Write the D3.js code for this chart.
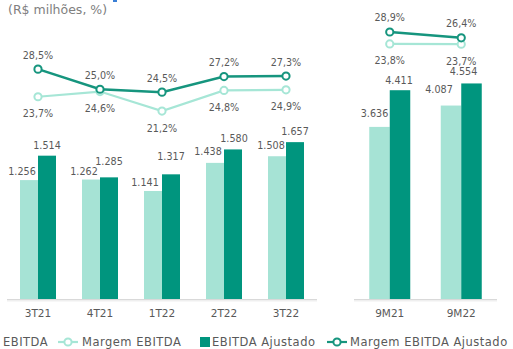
<!DOCTYPE html>
<html>
<head>
<meta charset="utf-8">
<script src="https://cdn.jsdelivr.net/npm/d3@7"></script>
<style>
  html, body { margin: 0; padding: 0; background: #fff; }
  svg { display: block; font-family: "DejaVu Sans", Verdana, sans-serif; }
</style>
</head>
<body>
<svg id="chart" width="513" height="349"></svg>
<script>
// Quarterly figures
const quarters = ["3T21", "4T21", "1T22", "2T22", "3T22"];
const ebitdaQ = [1256, 1262, 1141, 1438, 1508];
const ebitdaAjQ = [1514, 1285, 1317, 1580, 1657];
const margemQ = [23.7, 24.6, 21.2, 24.8, 24.9];
const margemAjQ = [28.5, 25.0, 24.5, 27.2, 27.3];

// Nine-month figures
const periods = ["9M21", "9M22"];
const ebitdaP = [3636, 4087];
const ebitdaAjP = [4411, 4554];
const margemP = [23.8, 23.7];
const margemAjP = [28.9, 26.4];

const legendItems = ["EBITDA", "Margem EBITDA", "EBITDA Ajustado", "Margem EBITDA Ajustado"];

const C = {
  light: "#a6e3d5",
  dark: "#00957e",
  lightLine: "#a6e6d6",
  darkLine: "#16957e",
  text: "#595959",
  axis: "#d9d9d9"
};

const fmtNum = d3.format(",d");
const num = v => fmtNum(v).replace(/,/g, ".");
const pct = v => v.toFixed(1).replace(".", ",") + "%";

const svg = d3.select("#chart");

svg.append("text")
  .attr("x", 8).attr("y", 14)
  .attr("fill", "#808080")
  .attr("font-size", 12.5)
  .text("(R$ milhões, %)");
svg.append("rect").attr("x", 113).attr("y", 0).attr("width", 4).attr("height", 2).attr("fill", "#3a7fd5");

// Label nudges (x, y) for the value labels above each bar
const qLightNudge = [[-7, -9], [-7, -8], [-8, -8], [-7, -11], [-6, -11]];
const qDarkNudge = [[0, -10], [0, -16], [0, -18], [1, -11], [0, -11]];
const pLightNudge = [[-5, -13], [-12, -16]];
const pDarkNudge = [[-1, -10], [-8, -12]];

function panel(cfg) {
  const x = d3.scaleBand().domain(cfg.cats).range(cfg.xRange).paddingInner(0).paddingOuter(0);
  const yBar = d3.scaleLinear().domain(cfg.barDomain).range([299, 15]);
  const yPct = d3.scaleLinear().domain([20, 30]).range(cfg.pctRange);
  const bw = cfg.barW;
  const g = svg.append("g");

  // axis baseline with soft shadow
  g.append("line")
    .attr("x1", cfg.xRange[0]).attr("x2", cfg.xRange[1])
    .attr("y1", 300.5).attr("y2", 300.5)
    .attr("stroke", "#efefef").attr("stroke-width", 2);
  g.append("line")
    .attr("x1", cfg.xRange[0]).attr("x2", cfg.xRange[1])
    .attr("y1", 299.5).attr("y2", 299.5)
    .attr("stroke", C.axis).attr("stroke-width", 1.2);

  const ctr = c => x(c) + x.bandwidth() / 2;

  g.selectAll(".bl").data(cfg.cats).join("rect")
    .attr("x", c => ctr(c) - bw).attr("width", bw)
    .attr("y", (c, i) => yBar(cfg.light[i]))
    .attr("height", (c, i) => 299 - yBar(cfg.light[i]))
    .attr("fill", C.light);
  g.selectAll(".bd").data(cfg.cats).join("rect")
    .attr("x", c => ctr(c)).attr("width", bw)
    .attr("y", (c, i) => yBar(cfg.dark[i]))
    .attr("height", (c, i) => 299 - yBar(cfg.dark[i]))
    .attr("fill", C.dark);

  const lab = (sel) => sel.attr("fill", C.text).attr("font-size", 9.6)
    .attr("text-anchor", "middle").attr("dominant-baseline", "central");

  g.selectAll(".tl").data(cfg.cats).join("text").call(lab)
    .attr("x", (c, i) => ctr(c) - bw / 2 + cfg.lightNudge[i][0])
    .attr("y", (c, i) => yBar(cfg.light[i]) + cfg.lightNudge[i][1])
    .text((c, i) => num(cfg.light[i]));
  g.selectAll(".td").data(cfg.cats).join("text").call(lab)
    .attr("x", (c, i) => ctr(c) + bw / 2 + cfg.darkNudge[i][0])
    .attr("y", (c, i) => yBar(cfg.dark[i]) + cfg.darkNudge[i][1])
    .text((c, i) => num(cfg.dark[i]));

  // category labels
  g.selectAll(".cx").data(cfg.cats).join("text")
    .attr("x", ctr).attr("y", 313)
    .attr("text-anchor", "middle").attr("dominant-baseline", "central")
    .attr("fill", C.text).attr("font-size", 10.5)
    .text(c => c);

  // margin lines
  const drawLine = (vals, color, sw, labDy) => {
    const pts = cfg.cats.map((c, i) => [ctr(c), yPct(vals[i])]);
    g.append("path").attr("d", d3.line()(pts))
      .attr("fill", "none").attr("stroke", color).attr("stroke-width", sw);
    g.selectAll(null).data(pts).join("circle")
      .attr("cx", p => p[0]).attr("cy", p => p[1]).attr("r", 3.6)
      .attr("fill", "#fff").attr("stroke", color).attr("stroke-width", 2);
    g.selectAll(null).data(pts).join("text").call(lab)
      .attr("x", p => p[0]).attr("y", p => p[1] + labDy)
      .text((p, i) => pct(vals[i]));
  };
  drawLine(cfg.margem, C.lightLine, 2.2, 17);
  drawLine(cfg.margemAj, C.darkLine, 2.5, -14);
}

panel({
  cats: quarters, xRange: [7, 317], barW: 18,
  barDomain: [0, 3000], pctRange: [118, 60.5],
  light: ebitdaQ, dark: ebitdaAjQ, margem: margemQ, margemAj: margemAjQ,
  lightNudge: qLightNudge, darkNudge: qDarkNudge
});
panel({
  cats: periods, xRange: [354, 497], barW: 20.5,
  barDomain: [0, 6000], pctRange: [52.9, 29.4],
  light: ebitdaP, dark: ebitdaAjP, margem: margemP, margemAj: margemAjP,
  lightNudge: pLightNudge, darkNudge: pDarkNudge
});

// legend
const lg = svg.append("g").attr("font-size", 11.5).attr("letter-spacing", 0.5).attr("fill", C.text);
const ly = 342;
const legendPos = [
  { kind: "rect", color: C.light, mx: -10, tx: 3 },
  { kind: "line", color: C.lightLine, mx: 58, tx: 82 },
  { kind: "rect", color: C.dark, mx: 200, tx: 212 },
  { kind: "line", color: C.darkLine, mx: 327, tx: 350 }
];
legendItems.forEach((name, i) => {
  const p = legendPos[i];
  if (p.kind === "rect") {
    lg.append("rect").attr("x", p.mx).attr("y", ly - 5).attr("width", 10).attr("height", 10).attr("fill", p.color);
  } else {
    lg.append("line").attr("x1", p.mx).attr("x2", p.mx + 20).attr("y1", ly).attr("y2", ly)
      .attr("stroke", p.color).attr("stroke-width", 2.2);
    lg.append("circle").attr("cx", p.mx + 10).attr("cy", ly).attr("r", 3.6)
      .attr("fill", "#fff").attr("stroke", p.color).attr("stroke-width", 2);
  }
  lg.append("text").attr("x", p.tx).attr("y", ly).attr("dominant-baseline", "central").text(name);
});
</script>
</body>
</html>
